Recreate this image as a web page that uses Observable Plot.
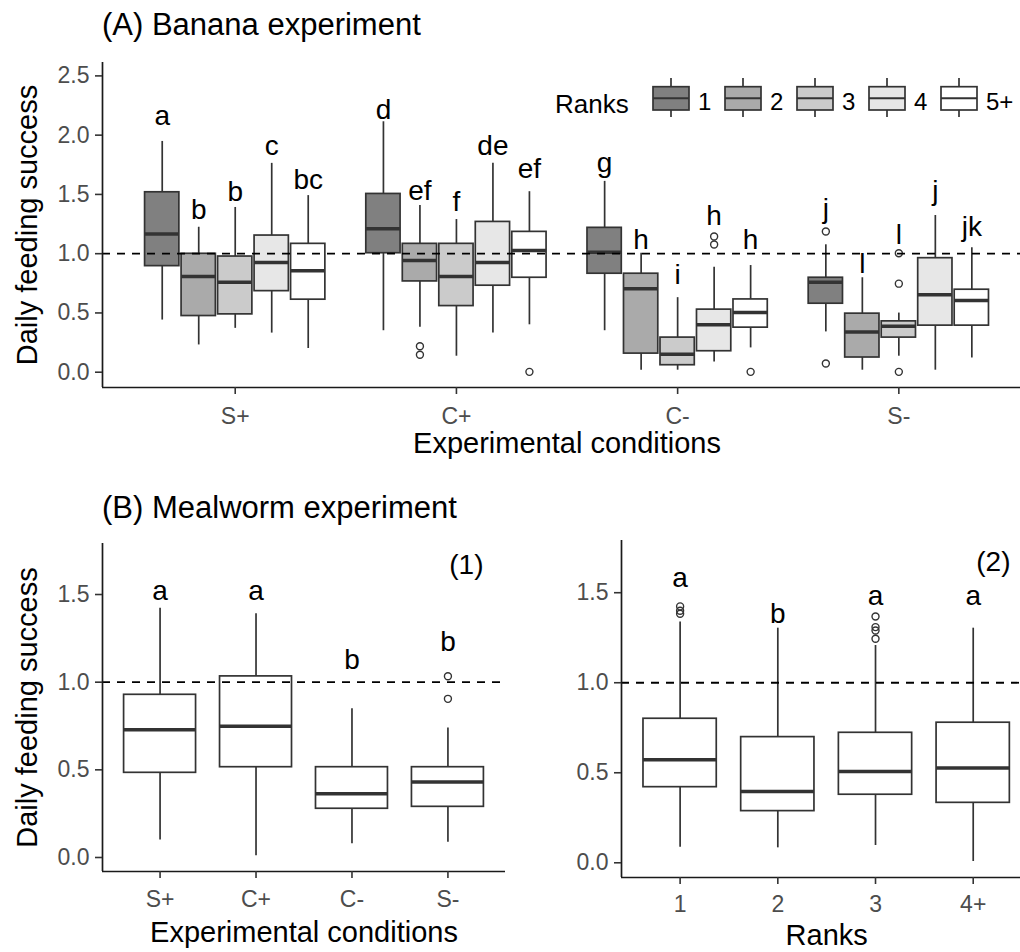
<!DOCTYPE html>
<html><head><meta charset="utf-8">
<script src="https://cdn.jsdelivr.net/npm/d3@7"></script>
<script src="https://cdn.jsdelivr.net/npm/@observablehq/plot@0.6"></script>
<style>
body{margin:0;background:#fff;font-family:"Liberation Sans",Arial,sans-serif;}
#root{position:relative;width:1020px;height:952px;overflow:hidden;background:#fff}
.panel{position:absolute}
.title{position:absolute;left:102px;font-size:31px;line-height:31px;color:#000;white-space:nowrap;z-index:3}
#legendA{position:absolute;left:540px;top:70px;z-index:2}
</style></head><body>
<div id="root">
<div class="title" style="top:9px">(A) Banana experiment</div>
<div class="title" style="top:492px">(B) Mealworm experiment</div>
<div class="panel" id="pA" style="left:0;top:0;width:1020px;height:470px"></div>
<div class="panel" id="pB1" style="left:0;top:470px;width:520px;height:482px"></div>
<div class="panel" id="pB2" style="left:520px;top:470px;width:500px;height:482px"></div>
<svg id="legendA" width="480" height="60"></svg>
</div>
<script>
// ---------- Data: (A) Banana experiment ----------
const bananaConditions = ["S+", "C+", "C-", "S-"];
const bananaRanks = ["1", "2", "3", "4", "5+"];
// order: condition-major (S+ r1..r5, C+ r1..r5, C- ..., S- ...)
const bananaLow    = [0.44, 0.23, 0.37, 0.33, 0.20,  0.35, 0.38, 0.135, 0.33, 0.40,  0.35, 0.017, 0.017, 0.087, 0.205,  0.34, 0.017, 0.135, 0.017, 0.12];
const bananaQ1     = [0.895, 0.474, 0.488, 0.684, 0.612,  1.004, 0.766, 0.558, 0.73, 0.797,  0.831, 0.157, 0.059, 0.177, 0.376,  0.578, 0.124, 0.292, 0.393, 0.393];
const bananaMedian = [1.167, 0.808, 0.76, 0.926, 0.856,  1.21, 0.943, 0.808, 0.926, 1.027,  1.013, 0.704, 0.152, 0.401, 0.503,  0.76, 0.339, 0.387, 0.654, 0.606];
const bananaQ3     = [1.518, 0.999, 0.976, 1.153, 1.083,  1.504, 1.083, 1.083, 1.268, 1.184,  1.218, 0.831, 0.292, 0.528, 0.614,  0.797, 0.494, 0.429, 0.962, 0.696];
const bananaHigh   = [1.947, 1.223, 1.39, 1.762, 1.49,  2.113, 1.406, 1.288, 1.762, 1.523,  1.61, 1.004, 0.629, 0.886, 0.9,  1.075, 0.797, 0.499, 1.322, 1.05];
const bananaLetters = ["a","b","b","c","bc", "d","ef","f","de","ef", "g","h","i","h","h", "j","l","l","j","jk"];
const bananaLetterY = [2.088, 1.294, 1.448, 1.835, 1.546,  2.137, 1.454, 1.364, 1.832, 1.639,  1.689, 1.041, 0.741, 1.243, 1.041,  1.299, 0.839, 1.083, 1.454, 1.145];
const bananaOutlierCondition = ["C+", "C+", "C+", "C-", "C-", "C-", "S-", "S-", "S-", "S-", "S-"];
const bananaOutlierRank      = ["2", "2", "5+", "4", "4", "5+", "1", "1", "3", "3", "3"];
const bananaOutlierValue     = [0.219, 0.147, 0.003, 1.145, 1.078, 0.003, 1.187, 0.073, 1.004, 0.747, 0.003];
const bananaYTicks = [0, 0.5, 1, 1.5, 2, 2.5];

// ---------- Data: (B1) Mealworm by condition ----------
const mealConditions = ["S+", "C+", "C-", "S-"];
const mealCondLow    = [0.10, 0.01, 0.078, 0.087];
const mealCondQ1     = [0.483, 0.515, 0.278, 0.289];
const mealCondMedian = [0.728, 0.749, 0.363, 0.43];
const mealCondQ3     = [0.928, 1.033, 0.515, 0.515];
const mealCondHigh   = [1.422, 1.39, 0.848, 0.738];
const mealCondLetters = ["a", "a", "b", "b"];
const mealCondLetterY = [1.47, 1.47, 1.076, 1.177];
const mealCondOutlierCondition = ["S-", "S-"];
const mealCondOutlierValue = [1.034, 0.905];

// ---------- Data: (B2) Mealworm by rank ----------
const mealRanks = ["1", "2", "3", "4+"];
const mealRankLow    = [0.087, 0.083, 0.096, 0.007];
const mealRankQ1     = [0.42, 0.287, 0.378, 0.333];
const mealRankMedian = [0.572, 0.396, 0.507, 0.526];
const mealRankQ3     = [0.80, 0.698, 0.722, 0.778];
const mealRankHigh   = [1.337, 1.303, 1.207, 1.303];
const mealRankLetters = ["a", "b", "a", "a"];
const mealRankLetterY = [1.531, 1.331, 1.429, 1.429];
const mealRankOutlierRank = ["1", "1", "1", "3", "3", "3", "3"];
const mealRankOutlierValue = [1.424, 1.40, 1.383, 1.368, 1.309, 1.29, 1.244];
const mealYTicks = [0, 0.5, 1, 1.5];

const referenceValue = 1;

// ---------- Styles ----------
const rankGreys = ["#808080", "#AAAAAA", "#CBCBCB", "#E7E7E7", "#FFFFFF"];
const lineColor = "#333333";
const axisColor = "#1a1a1a";
const tickTextColor = "#4D4D4D";
const FONT = '"Liberation Sans", Arial, sans-serif';
const dodgeStep = 0.165, boxWidthA = 0.155, boxWidthB = 0.75;

// ---------- Build rows ----------
const rowsA = [];
bananaConditions.forEach((c, i) => bananaRanks.forEach((r, j) => {
  const k = i * bananaRanks.length + j;
  rowsA.push({condition: c, rank: r, pos: i + (j - (bananaRanks.length - 1) / 2) * dodgeStep,
    low: bananaLow[k], q1: bananaQ1[k], median: bananaMedian[k], q3: bananaQ3[k], high: bananaHigh[k],
    letter: bananaLetters[k], letterY: bananaLetterY[k]});
}));
const outA = bananaOutlierValue.map((v, k) => {
  const i = bananaConditions.indexOf(bananaOutlierCondition[k]);
  const j = bananaRanks.indexOf(bananaOutlierRank[k]);
  return {pos: i + (j - (bananaRanks.length - 1) / 2) * dodgeStep, value: v};
});
const rowsB1 = mealConditions.map((c, i) => ({pos: i, low: mealCondLow[i], q1: mealCondQ1[i], median: mealCondMedian[i],
  q3: mealCondQ3[i], high: mealCondHigh[i], letter: mealCondLetters[i], letterY: mealCondLetterY[i]}));
const outB1 = mealCondOutlierValue.map((v, k) => ({pos: mealConditions.indexOf(mealCondOutlierCondition[k]), value: v}));
const rowsB2 = mealRanks.map((r, i) => ({pos: i, low: mealRankLow[i], q1: mealRankQ1[i], median: mealRankMedian[i],
  q3: mealRankQ3[i], high: mealRankHigh[i], letter: mealRankLetters[i], letterY: mealRankLetterY[i]}));
const outB2 = mealRankOutlierValue.map((v, k) => ({pos: mealRanks.indexOf(mealRankOutlierRank[k]), value: v}));

function boxMarks(rows, outs, halfWidth, fillOpt) {
  return [
    Plot.ruleX(rows, {x: "pos", y1: "low", y2: "q1", stroke: lineColor, strokeWidth: 1.7}),
    Plot.ruleX(rows, {x: "pos", y1: "q3", y2: "high", stroke: lineColor, strokeWidth: 1.7}),
    Plot.rect(rows, {x1: d => d.pos - halfWidth, x2: d => d.pos + halfWidth, y1: "q1", y2: "q3",
      fill: fillOpt, stroke: lineColor, strokeWidth: 1.7}),
    Plot.ruleY(rows, {y: "median", x1: d => d.pos - halfWidth, x2: d => d.pos + halfWidth, stroke: lineColor, strokeWidth: 3.5}),
    Plot.dot(outs, {x: "pos", y: "value", r: 3.5, stroke: lineColor, fill: "none", strokeWidth: 1.4}),
    Plot.ruleY([referenceValue], {stroke: "#000", strokeDasharray: "8,7", strokeWidth: 1.8}),
    Plot.text(rows, {x: "pos", y: "letterY", text: "letter", lineAnchor: "bottom", fontSize: 28, fill: "#000"})
  ];
}
function axisMarks(xDomain, yDomain, xTicks, xFormat, yTicks, xPad) {
  return [
    Plot.ruleX([xDomain[0]], {stroke: axisColor, strokeWidth: 1.7}),
    Plot.ruleY([yDomain[0]], {stroke: axisColor, strokeWidth: 1.7}),
    Plot.axisY({ticks: yTicks, tickFormat: d3.format(".1f"), tickSize: 7, tickPadding: 6, fontSize: 23,
      label: null, stroke: lineColor, strokeWidth: 1.6, fill: tickTextColor}),
    Plot.axisX({ticks: xTicks, tickFormat: xFormat, tickSize: 7, tickPadding: xPad, fontSize: 23,
      label: null, stroke: lineColor, strokeWidth: 1.6, fill: tickTextColor})
  ];
}
function yTitle(label) {
  return Plot.text([label], {text: d => d, frameAnchor: "left", textAnchor: "middle", rotate: -90, dx: -66,
    lineAnchor: "bottom", fontSize: 29, fill: "#000"});
}

// ---------- Panel A ----------
const xDomA = [-0.6, 3.55], yDomA = [-0.129, 2.613];
const plotA = Plot.plot({
  width: 1020, height: 470, marginTop: 62, marginBottom: 83, marginLeft: 102, marginRight: 0,
  style: {fontFamily: FONT, background: "transparent", overflow: "visible"},
  x: {domain: xDomA, axis: null},
  y: {domain: yDomA, axis: null},
  color: {domain: bananaRanks, range: rankGreys},
  marks: [
    ...boxMarks(rowsA, outA, boxWidthA / 2, "rank"),
    ...axisMarks(xDomA, yDomA, d3.range(bananaConditions.length), i => bananaConditions[i], bananaYTicks, 13),
    yTitle("Daily feeding success"),
    Plot.text(["Experimental conditions"], {text: d => d, x: () => (bananaConditions.length - 1) / 2, frameAnchor: "bottom", dy: 65.5, lineAnchor: "bottom", fontSize: 29, fill: "#000"})
  ]
});
document.getElementById("pA").appendChild(plotA);

// ---------- Panel B1 ----------
const xDomB1 = [-0.6, 3.6], yDomB1 = [-0.0799, 1.791];
const plotB1 = Plot.plot({
  width: 520, height: 482, marginTop: 73, marginBottom: 81, marginLeft: 102, marginRight: 15,
  style: {fontFamily: FONT, background: "transparent", overflow: "visible"},
  x: {domain: xDomB1, axis: null},
  y: {domain: yDomB1, axis: null},
  marks: [
    ...boxMarks(rowsB1, outB1, boxWidthB / 2, "#FFFFFF"),
    ...axisMarks(xDomB1, yDomB1, d3.range(mealConditions.length), i => mealConditions[i], mealYTicks, 12),
    yTitle("Daily feeding success"),
    Plot.text(["Experimental conditions"], {text: d => d, x: () => (mealConditions.length - 1) / 2, frameAnchor: "bottom", dy: 70, lineAnchor: "bottom", fontSize: 29, fill: "#000"}),
    Plot.text(["(1)"], {text: d => d, frameAnchor: "top-right", textAnchor: "end", dx: -22, dy: 30, lineAnchor: "bottom", fontSize: 28, fill: "#000"})
  ]
});
document.getElementById("pB1").appendChild(plotB1);

// ---------- Panel B2 ----------
const xDomB2 = [-0.6, 3.484], yDomB2 = [-0.0817, 1.79];
const plotB2 = Plot.plot({
  width: 500, height: 482, marginTop: 70, marginBottom: 75, marginLeft: 101, marginRight: 0,
  style: {fontFamily: FONT, background: "transparent", overflow: "visible"},
  x: {domain: xDomB2, axis: null},
  y: {domain: yDomB2, axis: null},
  marks: [
    ...boxMarks(rowsB2, outB2, boxWidthB / 2, "#FFFFFF"),
    ...axisMarks(xDomB2, yDomB2, d3.range(mealRanks.length), i => mealRanks[i], mealYTicks, 11),
    Plot.text(["Ranks"], {text: d => d, x: () => (mealRanks.length - 1) / 2, frameAnchor: "bottom", dy: 67, lineAnchor: "bottom", fontSize: 29, fill: "#000"}),
    Plot.text(["(2)"], {text: d => d, frameAnchor: "top-right", textAnchor: "end", dx: -10, dy: 30, lineAnchor: "bottom", fontSize: 28, fill: "#000"})
  ]
});
document.getElementById("pB2").appendChild(plotB2);

// ---------- Legend for panel A (boxplot keys) ----------
(function () {
  const svg = d3.select("#legendA");
  svg.append("text").attr("x", 15).attr("y", 43).attr("font-family", FONT).attr("font-size", 26).attr("fill", "#000").text("Ranks");
  bananaRanks.forEach((r, j) => {
    const cx = 131 + j * 72;
    const g = svg.append("g").attr("stroke", lineColor).attr("stroke-width", 1.7);
    g.append("line").attr("x1", cx).attr("x2", cx).attr("y1", 8).attr("y2", 16.7);
    g.append("line").attr("x1", cx).attr("x2", cx).attr("y1", 40).attr("y2", 47);
    g.append("rect").attr("x", cx - 18).attr("y", 16.7).attr("width", 36).attr("height", 23.3).attr("fill", rankGreys[j]);
    g.append("line").attr("x1", cx - 18).attr("x2", cx + 18).attr("y1", 28.3).attr("y2", 28.3).attr("stroke-width", 2);
    svg.append("text").attr("x", cx + 27).attr("y", 40).attr("font-family", FONT).attr("font-size", 24).attr("fill", "#000").text(r);
  });
})();
</script>
</body></html>
